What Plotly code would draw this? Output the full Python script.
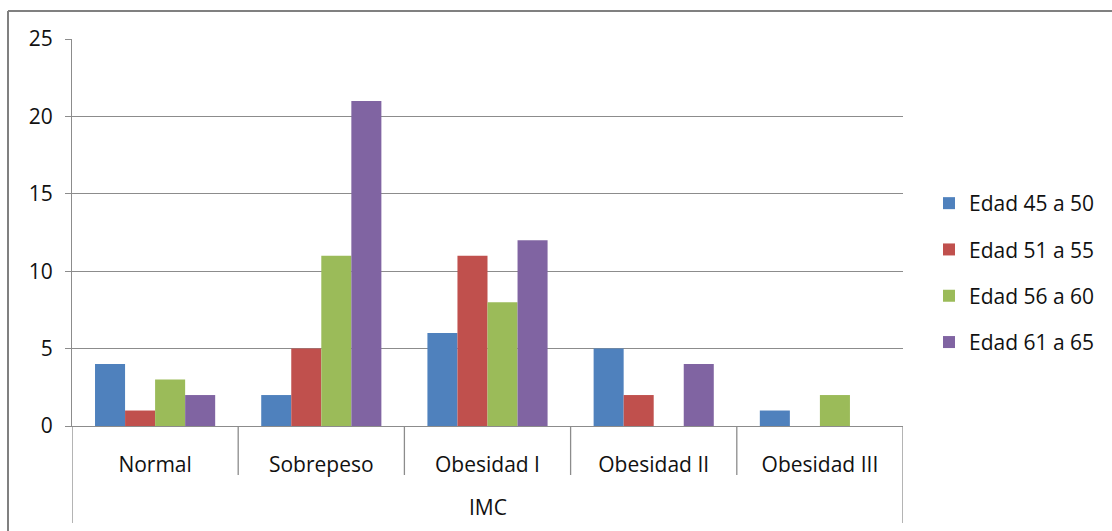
import plotly.graph_objects as go

# Data: count of people per BMI category, split by age group
categories = ["Normal", "Sobrepeso", "Obesidad I", "Obesidad II", "Obesidad III"]
series_names = ["Edad 45 a 50", "Edad 51 a 55", "Edad 56 a 60", "Edad 61 a 65"]
edad_45_50 = [4, 2, 6, 5, 1]
edad_51_55 = [1, 5, 11, 2, 0]
edad_56_60 = [3, 11, 8, 0, 2]
edad_61_65 = [2, 21, 12, 4, 0]
y_ticks = [0, 5, 10, 15, 20, 25]
axis_title = "IMC"

series_values = [edad_45_50, edad_51_55, edad_56_60, edad_61_65]
colors = ["#4F81BD", "#C0504D", "#9BBB59", "#8064A2"]

W, H = 1112, 531
M_L, M_R, M_T, M_B = 72, 209, 39, 105
plot_w = W - M_L - M_R
plot_h = H - M_T - M_B

FONT = "Open Sans, Noto Sans, sans-serif"
GRID = "#8c8c8c"
TEXT = "#111111"


def px_x(px):
    return (px - M_L) / plot_w


def px_y(py):
    return (H - M_B - py) / plot_h


fig = go.Figure()
for name, vals, col in zip(series_names, series_values, colors):
    fig.add_trace(go.Bar(
        x=categories, y=vals, name=name, legendgroup=name,
        marker=dict(color=col, line=dict(width=0)),
    ))

shapes = []
# category separators below the axis; outer ones run down past the axis title
n = len(categories)
for i in range(n + 1):
    outer = i in (0, n)
    shapes.append(dict(
        type="line", xref="x", yref="paper",
        x0=i - 0.5, x1=i - 0.5, y0=0, y1=px_y(523 if outer else 475),
        line=dict(color=GRID, width=1.3),
    ))
# chart frame (top and left edges)
shapes.append(dict(type="line", xref="paper", yref="paper",
                   x0=px_x(8), x1=px_x(W + 5), y0=px_y(11), y1=px_y(11),
                   line=dict(color="#808080", width=2)))
shapes.append(dict(type="line", xref="paper", yref="paper",
                   x0=px_x(8), x1=px_x(8), y0=px_y(11), y1=px_y(H + 5),
                   line=dict(color="#808080", width=2)))

fig.update_layout(
    width=W, height=H,
    margin=dict(l=M_L, r=M_R, t=M_T, b=M_B, autoexpand=False),
    paper_bgcolor="white", plot_bgcolor="white",
    barmode="group", bargap=0.277, bargroupgap=0,
    font=dict(family=FONT, size=21, color=TEXT),
    shapes=shapes,
    legend=dict(
        x=px_x(929), y=px_y(273), xanchor="left", yanchor="middle",
        font=dict(family=FONT, size=21, color=TEXT),
        tracegroupgap=16, bgcolor="rgba(0,0,0,0)",
    ),
    annotations=[dict(
        text=axis_title, xref="x", yref="paper", x=(n - 1) / 2, y=px_y(507),
        showarrow=False, xanchor="center", yanchor="middle",
        font=dict(family=FONT, size=21, color=TEXT),
    )],
)

fig.update_xaxes(
    type="category", showgrid=False, showline=True, linecolor=GRID, linewidth=1.3,
    ticks="", ticklabelstandoff=20, range=[-0.5, n - 0.5],
    tickfont=dict(family=FONT, size=21, color=TEXT),
)
fig.update_yaxes(
    range=[0, 25], tickvals=y_ticks, showgrid=True, gridcolor=GRID, gridwidth=1.3,
    showline=True, linecolor=GRID, linewidth=1.3, zeroline=False,
    ticks="outside", ticklen=6, tickcolor=GRID, tickwidth=1.3,
    ticklabelstandoff=8,
    tickfont=dict(family=FONT, size=21, color=TEXT),
)

fig.write_html("out.html")
